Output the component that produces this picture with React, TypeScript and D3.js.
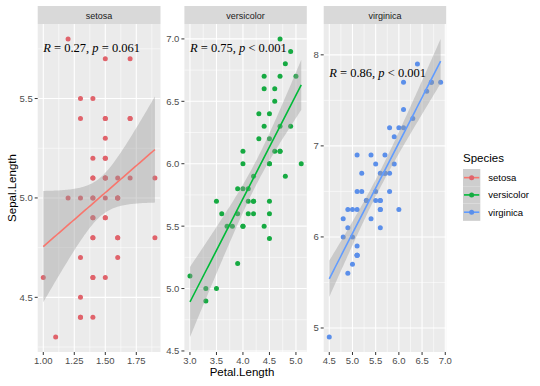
import * as d3 from "d3";
import { useEffect } from "react";

// iris: Petal.Length (x) and Sepal.Length (y) by species
const setosaPetal = [1.4, 1.4, 1.3, 1.5, 1.4, 1.7, 1.4, 1.5, 1.4, 1.5, 1.5, 1.6, 1.4, 1.1, 1.2, 1.5, 1.3, 1.4, 1.7, 1.5, 1.7, 1.5, 1.0, 1.7, 1.9, 1.6, 1.6, 1.5, 1.4, 1.6, 1.6, 1.5, 1.5, 1.4, 1.5, 1.2, 1.3, 1.4, 1.3, 1.5, 1.3, 1.3, 1.3, 1.6, 1.9, 1.4, 1.6, 1.4, 1.5, 1.4];
const setosaSepal = [5.1, 4.9, 4.7, 4.6, 5.0, 5.4, 4.6, 5.0, 4.4, 4.9, 5.4, 4.8, 4.8, 4.3, 5.8, 5.7, 5.4, 5.1, 5.7, 5.1, 5.4, 5.1, 4.6, 5.1, 4.8, 5.0, 5.0, 5.2, 5.2, 4.7, 4.8, 5.4, 5.2, 5.5, 4.9, 5.0, 5.5, 4.9, 4.4, 5.1, 5.0, 4.5, 4.4, 5.0, 5.1, 4.8, 5.1, 4.6, 5.3, 5.0];
const versicolorPetal = [4.7, 4.5, 4.9, 4.0, 4.6, 4.5, 4.7, 3.3, 4.6, 3.9, 3.5, 4.2, 4.0, 4.7, 3.6, 4.4, 4.5, 4.1, 4.5, 3.9, 4.8, 4.0, 4.9, 4.7, 4.3, 4.4, 4.8, 5.0, 4.5, 3.5, 3.8, 3.7, 3.9, 5.1, 4.5, 4.5, 4.7, 4.4, 4.1, 4.0, 4.4, 4.6, 4.0, 3.3, 4.2, 4.2, 4.2, 4.3, 3.0, 4.1];
const versicolorSepal = [7.0, 6.4, 6.9, 5.5, 6.5, 5.7, 6.3, 4.9, 6.6, 5.2, 5.0, 5.9, 6.0, 6.1, 5.6, 6.7, 5.6, 5.8, 6.2, 5.6, 5.9, 6.1, 6.3, 6.1, 6.4, 6.6, 6.8, 6.7, 6.0, 5.7, 5.5, 5.5, 5.8, 6.0, 5.4, 6.0, 6.7, 6.3, 5.6, 5.5, 5.5, 6.1, 5.8, 5.0, 5.6, 5.7, 5.7, 6.2, 5.1, 5.7];
const virginicaPetal = [6.0, 5.1, 5.9, 5.6, 5.8, 6.6, 4.5, 6.3, 5.8, 6.1, 5.1, 5.3, 5.5, 5.0, 5.1, 5.3, 5.5, 6.7, 6.9, 5.0, 5.7, 4.9, 6.7, 4.9, 5.7, 6.0, 4.8, 4.9, 5.6, 5.8, 6.1, 6.4, 5.6, 5.1, 5.6, 6.1, 5.6, 5.5, 4.8, 5.4, 5.6, 5.1, 5.1, 5.9, 5.7, 5.2, 5.0, 5.2, 5.4, 5.1];
const virginicaSepal = [6.3, 5.8, 7.1, 6.3, 6.5, 7.6, 4.9, 7.3, 6.7, 7.2, 6.5, 6.4, 6.8, 5.7, 5.8, 6.4, 6.5, 7.7, 7.7, 6.0, 6.9, 5.6, 7.7, 6.3, 6.7, 7.2, 6.2, 6.1, 6.4, 7.2, 7.4, 7.9, 6.4, 6.3, 6.1, 7.7, 6.3, 6.4, 6.0, 6.9, 6.7, 6.9, 5.8, 6.8, 6.7, 6.7, 6.3, 6.5, 6.2, 5.9];

const species = ["setosa", "versicolor", "virginica"];
const lineColors = ["#F8766D", "#00BA38", "#619CFF"];
const pointColors = ["#E0636B", "#16AA42", "#5B8FEA"];
const corR = ["0.27", "0.75", "0.86"];
const corP = ["= 0.061", "< 0.001", "< 0.001"];

const xTicks = [[1.0, 1.25, 1.5, 1.75], [3.0, 3.5, 4.0, 4.5, 5.0], [4.5, 5.0, 5.5, 6.0, 6.5, 7.0]];
const xTickLabels = [["1.00", "1.25", "1.50", "1.75"], ["3.0", "3.5", "4.0", "4.5", "5.0"], ["4.5", "5.0", "5.5", "6.0", "6.5", "7.0"]];
const yTicks = [[4.5, 5.0, 5.5], [4.5, 5.0, 5.5, 6.0, 6.5, 7.0], [5, 6, 7, 8]];
const yTickLabels = [["4.5", "5.0", "5.5"], ["4.5", "5.0", "5.5", "6.0", "6.5", "7.0"], ["5", "6", "7", "8"]];

const petal = [setosaPetal, versicolorPetal, virginicaPetal];
const sepal = [setosaSepal, versicolorSepal, virginicaSepal];

const W = 540;
const H = 386;
const panelX = [[37.7, 160.5], [184.4, 306.8], [323.7, 446.2]];
const panelTop = 24;
const panelBottom = 352;
const T48 = 2.0106; // qt(0.975, 48)

const sans = "'Liberation Sans', Arial, Helvetica, sans-serif";
const serif = "'Liberation Serif', 'Times New Roman', serif";

function fitLm(xs: number[], ys: number[]) {
  const n = xs.length;
  const xbar = d3.mean(xs)!;
  const ybar = d3.mean(ys)!;
  let sxx = 0;
  let sxy = 0;
  xs.forEach((x, i) => {
    sxx += (x - xbar) ** 2;
    sxy += (x - xbar) * (ys[i] - ybar);
  });
  const slope = sxy / sxx;
  const intercept = ybar - slope * xbar;
  let sse = 0;
  xs.forEach((x, i) => {
    sse += (ys[i] - intercept - slope * x) ** 2;
  });
  const s = Math.sqrt(sse / (n - 2));
  const [x0, x1] = d3.extent(xs) as [number, number];
  // 80 evaluation points, like geom_smooth
  return d3.range(80).map((k) => {
    const x = x0 + ((x1 - x0) * k) / 79;
    const fit = intercept + slope * x;
    const se = s * Math.sqrt(1 / n + (x - xbar) ** 2 / sxx);
    return { x, fit, lo: fit - T48 * se, hi: fit + T48 * se };
  });
}

function minorBreaks(ticks: number[], domain: number[]) {
  const step = ticks[1] - ticks[0];
  const m = [ticks[0] - step / 2, ...ticks.map((t) => t + step / 2)];
  return m.filter((v) => v >= domain[0] && v <= domain[1]);
}

function Panel({ i }: { i: number }) {
  const xs = petal[i];
  const ys = sepal[i];
  const band = fitLm(xs, ys);
  const [xmin, xmax] = d3.extent(xs) as [number, number];
  const ymin = Math.min(d3.min(ys)!, d3.min(band, (d) => d.lo)!);
  const ymax = Math.max(d3.max(ys)!, d3.max(band, (d) => d.hi)!);
  const xpad = (xmax - xmin) * 0.05;
  const ypad = (ymax - ymin) * 0.05;
  const xDom = [xmin - xpad, xmax + xpad];
  const yDom = [ymin - ypad, ymax + ypad];
  const [left, right] = panelX[i];
  const x = d3.scaleLinear().domain(xDom).range([left, right]);
  const y = d3.scaleLinear().domain(yDom).range([panelBottom, panelTop]);

  const area = d3
    .area<{ x: number; lo: number; hi: number }>()
    .x((d) => x(d.x))
    .y0((d) => y(d.lo))
    .y1((d) => y(d.hi));
  const line = d3
    .line<{ x: number; fit: number }>()
    .x((d) => x(d.x))
    .y((d) => y(d.fit));

  return (
    <g>
      <rect x={left} y={panelTop} width={right - left} height={panelBottom - panelTop} fill="#EBEBEB" />
      {minorBreaks(xTicks[i], xDom).map((v) => (
        <line key={`mx${v}`} x1={x(v)} x2={x(v)} y1={panelTop} y2={panelBottom} stroke="#fff" strokeWidth={0.55} />
      ))}
      {minorBreaks(yTicks[i], yDom).map((v) => (
        <line key={`my${v}`} x1={left} x2={right} y1={y(v)} y2={y(v)} stroke="#fff" strokeWidth={0.55} />
      ))}
      {xTicks[i].map((v) => (
        <line key={`gx${v}`} x1={x(v)} x2={x(v)} y1={panelTop} y2={panelBottom} stroke="#fff" strokeWidth={1.1} />
      ))}
      {yTicks[i].map((v) => (
        <line key={`gy${v}`} x1={left} x2={right} y1={y(v)} y2={y(v)} stroke="#fff" strokeWidth={1.1} />
      ))}
      {xs.map((v, k) => (
        <circle key={k} cx={x(v)} cy={y(ys[k])} r={2.5} fill={pointColors[i]} />
      ))}
      <path d={area(band) || ""} fill="#999999" fillOpacity={0.4} />
      <path d={line(band) || ""} fill="none" stroke={lineColors[i]} strokeWidth={1.6} />
      <text x={x(xmin)} y={y(d3.max(ys)!) + 13.5} fontFamily={serif} fontSize={12.5} fill="#000">
        <tspan fontStyle="italic">R</tspan>
        {` = ${corR[i]}, `}
        <tspan fontStyle="italic">p</tspan>
        {` ${corP[i]}`}
      </text>
      {/* strip */}
      <rect x={left} y={6} width={right - left} height={panelTop - 6} fill="#D9D9D9" />
      <text x={(left + right) / 2} y={18.5} textAnchor="middle" fontFamily={sans} fontSize={9} fill="#1A1A1A">
        {species[i]}
      </text>
      {/* axes */}
      {xTicks[i].map((v, k) => (
        <g key={`tx${v}`}>
          <line x1={x(v)} x2={x(v)} y1={panelBottom} y2={panelBottom + 3} stroke="#333" strokeWidth={1} />
          <text x={x(v)} y={panelBottom + 11.5} textAnchor="middle" fontFamily={sans} fontSize={9.5} fill="#4D4D4D">
            {xTickLabels[i][k]}
          </text>
        </g>
      ))}
      {yTicks[i].map((v, k) => (
        <g key={`ty${v}`}>
          <line x1={left - 3} x2={left} y1={y(v)} y2={y(v)} stroke="#333" strokeWidth={1} />
          <text x={left - 5} y={y(v) + 3.4} textAnchor="end" fontFamily={sans} fontSize={9.5} fill="#4D4D4D">
            {yTickLabels[i][k]}
          </text>
        </g>
      ))}
    </g>
  );
}

export default function App() {
  useEffect(() => {
    document.body.style.margin = "0";
  }, []);

  const keyX = 463;
  const keyY = 169;
  const keySize = 17.28;

  return (
    <svg width={W} height={H} style={{ display: "block", background: "#fff" }}>
      {species.map((_, i) => (
        <Panel key={i} i={i} />
      ))}
      <text x={242} y={376} textAnchor="middle" fontFamily={sans} fontSize={11.5} fill="#000">
        Petal.Length
      </text>
      <text transform={`translate(16,188) rotate(-90)`} textAnchor="middle" fontFamily={sans} fontSize={11.5} fill="#000">
        Sepal.Length
      </text>
      <text x={keyX} y={162} fontFamily={sans} fontSize={11.5} fill="#000">
        Species
      </text>
      {species.map((s, i) => {
        const cy = keyY + keySize * i + keySize / 2;
        return (
          <g key={s}>
            <rect x={keyX} y={keyY + keySize * i} width={keySize} height={keySize} fill="#F2F2F2" />
            <rect x={keyX} y={keyY + keySize * i} width={keySize} height={keySize} fill="#999999" fillOpacity={0.4} />
            <line x1={keyX + 1} x2={keyX + keySize - 1} y1={cy} y2={cy} stroke={lineColors[i]} strokeWidth={1.6} />
            <circle cx={keyX + keySize / 2} cy={cy} r={2.5} fill={pointColors[i]} />
            <text x={keyX + keySize + 8} y={cy + 3.4} fontFamily={sans} fontSize={9.5} fill="#000">
              {s}
            </text>
          </g>
        );
      })}
    </svg>
  );
}
